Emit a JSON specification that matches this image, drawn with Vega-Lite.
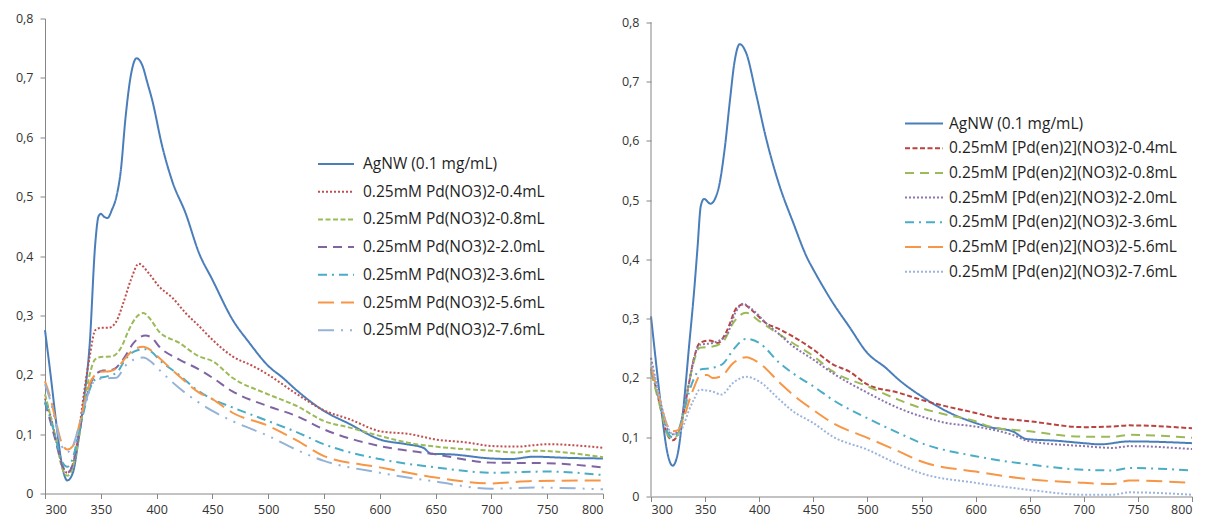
{
"$schema": "https://vega.github.io/schema/vega-lite/v6.json",
"padding": {"left": 15, "top": 12.5, "right": 0, "bottom": 0},
"background": "white",
"config": {
 "view": {"stroke": null},
 "axis": {"grid": false, "domainColor": "#868686", "tickColor": "#868686", "tickSize": 5, "labelFont": "Open Sans", "labelFontSize": 12.5, "labelColor": "#333333", "title": null},
 "legend": {"symbolType": "M-2,0H2", "symbolStrokeWidth": 2, "symbolFillColor": "transparent", "labelFont": "Open Sans", "labelFontSize": 15.5, "labelColor": "#1f1f1f", "title": null, "labelLimit": 500}
},
"spacing": 48,
"bounds": "flush",
"resolve": {"scale": {"color": "independent", "strokeDash": "independent"}, "legend": {"color": "independent", "strokeDash": "independent"}},
"datasets": {
"L": [
{"s":"AgNW (0.1 mg/mL)","x":300,"y":0.275},{"s":"AgNW (0.1 mg/mL)","x":305,"y":0.2},{"s":"AgNW (0.1 mg/mL)","x":310,"y":0.12},{"s":"AgNW (0.1 mg/mL)","x":315,"y":0.05},{"s":"AgNW (0.1 mg/mL)","x":320,"y":0.022},{"s":"AgNW (0.1 mg/mL)","x":325,"y":0.035},{"s":"AgNW (0.1 mg/mL)","x":330,"y":0.09},{"s":"AgNW (0.1 mg/mL)","x":335,"y":0.16},{"s":"AgNW (0.1 mg/mL)","x":340,"y":0.25},{"s":"AgNW (0.1 mg/mL)","x":345,"y":0.42},{"s":"AgNW (0.1 mg/mL)","x":348,"y":0.467},{"s":"AgNW (0.1 mg/mL)","x":350,"y":0.471},{"s":"AgNW (0.1 mg/mL)","x":353,"y":0.466},{"s":"AgNW (0.1 mg/mL)","x":356,"y":0.464},{"s":"AgNW (0.1 mg/mL)","x":360,"y":0.478},{"s":"AgNW (0.1 mg/mL)","x":364,"y":0.5},{"s":"AgNW (0.1 mg/mL)","x":368,"y":0.545},{"s":"AgNW (0.1 mg/mL)","x":372,"y":0.63},{"s":"AgNW (0.1 mg/mL)","x":377,"y":0.705},{"s":"AgNW (0.1 mg/mL)","x":382,"y":0.733},{"s":"AgNW (0.1 mg/mL)","x":387,"y":0.722},{"s":"AgNW (0.1 mg/mL)","x":392,"y":0.69},{"s":"AgNW (0.1 mg/mL)","x":396,"y":0.663},{"s":"AgNW (0.1 mg/mL)","x":405,"y":0.585},{"s":"AgNW (0.1 mg/mL)","x":414,"y":0.526},{"s":"AgNW (0.1 mg/mL)","x":426,"y":0.472},{"s":"AgNW (0.1 mg/mL)","x":438,"y":0.405},{"s":"AgNW (0.1 mg/mL)","x":450,"y":0.36},{"s":"AgNW (0.1 mg/mL)","x":468,"y":0.293},{"s":"AgNW (0.1 mg/mL)","x":483,"y":0.254},{"s":"AgNW (0.1 mg/mL)","x":500,"y":0.215},{"s":"AgNW (0.1 mg/mL)","x":513,"y":0.195},{"s":"AgNW (0.1 mg/mL)","x":526,"y":0.173},{"s":"AgNW (0.1 mg/mL)","x":550,"y":0.139},{"s":"AgNW (0.1 mg/mL)","x":573,"y":0.117},{"s":"AgNW (0.1 mg/mL)","x":600,"y":0.091},{"s":"AgNW (0.1 mg/mL)","x":624,"y":0.083},{"s":"AgNW (0.1 mg/mL)","x":639,"y":0.077},{"s":"AgNW (0.1 mg/mL)","x":646,"y":0.067},{"s":"AgNW (0.1 mg/mL)","x":663,"y":0.066},{"s":"AgNW (0.1 mg/mL)","x":700,"y":0.059},{"s":"AgNW (0.1 mg/mL)","x":717,"y":0.058},{"s":"AgNW (0.1 mg/mL)","x":738,"y":0.062},{"s":"AgNW (0.1 mg/mL)","x":768,"y":0.06},{"s":"AgNW (0.1 mg/mL)","x":800,"y":0.059},
{"s":"0.25mM Pd(NO3)2-0.4mL","x":300,"y":0.16},{"s":"0.25mM Pd(NO3)2-0.4mL","x":305,"y":0.13},{"s":"0.25mM Pd(NO3)2-0.4mL","x":310,"y":0.09},{"s":"0.25mM Pd(NO3)2-0.4mL","x":315,"y":0.05},{"s":"0.25mM Pd(NO3)2-0.4mL","x":320,"y":0.035},{"s":"0.25mM Pd(NO3)2-0.4mL","x":325,"y":0.05},{"s":"0.25mM Pd(NO3)2-0.4mL","x":330,"y":0.1},{"s":"0.25mM Pd(NO3)2-0.4mL","x":335,"y":0.17},{"s":"0.25mM Pd(NO3)2-0.4mL","x":340,"y":0.23},{"s":"0.25mM Pd(NO3)2-0.4mL","x":345,"y":0.275},{"s":"0.25mM Pd(NO3)2-0.4mL","x":350,"y":0.279},{"s":"0.25mM Pd(NO3)2-0.4mL","x":357,"y":0.279},{"s":"0.25mM Pd(NO3)2-0.4mL","x":364,"y":0.29},{"s":"0.25mM Pd(NO3)2-0.4mL","x":370,"y":0.32},{"s":"0.25mM Pd(NO3)2-0.4mL","x":377,"y":0.36},{"s":"0.25mM Pd(NO3)2-0.4mL","x":384,"y":0.387},{"s":"0.25mM Pd(NO3)2-0.4mL","x":393,"y":0.371},{"s":"0.25mM Pd(NO3)2-0.4mL","x":402,"y":0.349},{"s":"0.25mM Pd(NO3)2-0.4mL","x":414,"y":0.33},{"s":"0.25mM Pd(NO3)2-0.4mL","x":426,"y":0.304},{"s":"0.25mM Pd(NO3)2-0.4mL","x":438,"y":0.282},{"s":"0.25mM Pd(NO3)2-0.4mL","x":450,"y":0.259},{"s":"0.25mM Pd(NO3)2-0.4mL","x":468,"y":0.231},{"s":"0.25mM Pd(NO3)2-0.4mL","x":486,"y":0.215},{"s":"0.25mM Pd(NO3)2-0.4mL","x":500,"y":0.2},{"s":"0.25mM Pd(NO3)2-0.4mL","x":526,"y":0.167},{"s":"0.25mM Pd(NO3)2-0.4mL","x":550,"y":0.14},{"s":"0.25mM Pd(NO3)2-0.4mL","x":573,"y":0.125},{"s":"0.25mM Pd(NO3)2-0.4mL","x":600,"y":0.105},{"s":"0.25mM Pd(NO3)2-0.4mL","x":627,"y":0.1},{"s":"0.25mM Pd(NO3)2-0.4mL","x":650,"y":0.091},{"s":"0.25mM Pd(NO3)2-0.4mL","x":678,"y":0.086},{"s":"0.25mM Pd(NO3)2-0.4mL","x":700,"y":0.08},{"s":"0.25mM Pd(NO3)2-0.4mL","x":723,"y":0.079},{"s":"0.25mM Pd(NO3)2-0.4mL","x":750,"y":0.083},{"s":"0.25mM Pd(NO3)2-0.4mL","x":800,"y":0.077},
{"s":"0.25mM Pd(NO3)2-0.8mL","x":300,"y":0.167},{"s":"0.25mM Pd(NO3)2-0.8mL","x":305,"y":0.13},{"s":"0.25mM Pd(NO3)2-0.8mL","x":310,"y":0.09},{"s":"0.25mM Pd(NO3)2-0.8mL","x":315,"y":0.045},{"s":"0.25mM Pd(NO3)2-0.8mL","x":320,"y":0.03},{"s":"0.25mM Pd(NO3)2-0.8mL","x":325,"y":0.045},{"s":"0.25mM Pd(NO3)2-0.8mL","x":330,"y":0.09},{"s":"0.25mM Pd(NO3)2-0.8mL","x":335,"y":0.15},{"s":"0.25mM Pd(NO3)2-0.8mL","x":340,"y":0.2},{"s":"0.25mM Pd(NO3)2-0.8mL","x":345,"y":0.226},{"s":"0.25mM Pd(NO3)2-0.8mL","x":350,"y":0.23},{"s":"0.25mM Pd(NO3)2-0.8mL","x":360,"y":0.231},{"s":"0.25mM Pd(NO3)2-0.8mL","x":368,"y":0.245},{"s":"0.25mM Pd(NO3)2-0.8mL","x":375,"y":0.275},{"s":"0.25mM Pd(NO3)2-0.8mL","x":381,"y":0.295},{"s":"0.25mM Pd(NO3)2-0.8mL","x":388,"y":0.304},{"s":"0.25mM Pd(NO3)2-0.8mL","x":395,"y":0.292},{"s":"0.25mM Pd(NO3)2-0.8mL","x":402,"y":0.273},{"s":"0.25mM Pd(NO3)2-0.8mL","x":420,"y":0.254},{"s":"0.25mM Pd(NO3)2-0.8mL","x":438,"y":0.231},{"s":"0.25mM Pd(NO3)2-0.8mL","x":450,"y":0.223},{"s":"0.25mM Pd(NO3)2-0.8mL","x":468,"y":0.195},{"s":"0.25mM Pd(NO3)2-0.8mL","x":500,"y":0.167},{"s":"0.25mM Pd(NO3)2-0.8mL","x":526,"y":0.147},{"s":"0.25mM Pd(NO3)2-0.8mL","x":550,"y":0.122},{"s":"0.25mM Pd(NO3)2-0.8mL","x":573,"y":0.111},{"s":"0.25mM Pd(NO3)2-0.8mL","x":600,"y":0.097},{"s":"0.25mM Pd(NO3)2-0.8mL","x":627,"y":0.085},{"s":"0.25mM Pd(NO3)2-0.8mL","x":650,"y":0.079},{"s":"0.25mM Pd(NO3)2-0.8mL","x":700,"y":0.072},{"s":"0.25mM Pd(NO3)2-0.8mL","x":723,"y":0.069},{"s":"0.25mM Pd(NO3)2-0.8mL","x":738,"y":0.072},{"s":"0.25mM Pd(NO3)2-0.8mL","x":800,"y":0.061},
{"s":"0.25mM Pd(NO3)2-2.0mL","x":300,"y":0.153},{"s":"0.25mM Pd(NO3)2-2.0mL","x":305,"y":0.12},{"s":"0.25mM Pd(NO3)2-2.0mL","x":310,"y":0.085},{"s":"0.25mM Pd(NO3)2-2.0mL","x":315,"y":0.05},{"s":"0.25mM Pd(NO3)2-2.0mL","x":320,"y":0.035},{"s":"0.25mM Pd(NO3)2-2.0mL","x":325,"y":0.05},{"s":"0.25mM Pd(NO3)2-2.0mL","x":330,"y":0.095},{"s":"0.25mM Pd(NO3)2-2.0mL","x":335,"y":0.145},{"s":"0.25mM Pd(NO3)2-2.0mL","x":340,"y":0.18},{"s":"0.25mM Pd(NO3)2-2.0mL","x":345,"y":0.2},{"s":"0.25mM Pd(NO3)2-2.0mL","x":352,"y":0.207},{"s":"0.25mM Pd(NO3)2-2.0mL","x":361,"y":0.209},{"s":"0.25mM Pd(NO3)2-2.0mL","x":370,"y":0.226},{"s":"0.25mM Pd(NO3)2-2.0mL","x":380,"y":0.255},{"s":"0.25mM Pd(NO3)2-2.0mL","x":390,"y":0.266},{"s":"0.25mM Pd(NO3)2-2.0mL","x":396,"y":0.262},{"s":"0.25mM Pd(NO3)2-2.0mL","x":402,"y":0.248},{"s":"0.25mM Pd(NO3)2-2.0mL","x":420,"y":0.226},{"s":"0.25mM Pd(NO3)2-2.0mL","x":438,"y":0.209},{"s":"0.25mM Pd(NO3)2-2.0mL","x":450,"y":0.195},{"s":"0.25mM Pd(NO3)2-2.0mL","x":468,"y":0.172},{"s":"0.25mM Pd(NO3)2-2.0mL","x":500,"y":0.147},{"s":"0.25mM Pd(NO3)2-2.0mL","x":526,"y":0.13},{"s":"0.25mM Pd(NO3)2-2.0mL","x":550,"y":0.108},{"s":"0.25mM Pd(NO3)2-2.0mL","x":600,"y":0.08},{"s":"0.25mM Pd(NO3)2-2.0mL","x":650,"y":0.066},{"s":"0.25mM Pd(NO3)2-2.0mL","x":700,"y":0.052},{"s":"0.25mM Pd(NO3)2-2.0mL","x":750,"y":0.051},{"s":"0.25mM Pd(NO3)2-2.0mL","x":800,"y":0.044},
{"s":"0.25mM Pd(NO3)2-3.6mL","x":300,"y":0.155},{"s":"0.25mM Pd(NO3)2-3.6mL","x":305,"y":0.125},{"s":"0.25mM Pd(NO3)2-3.6mL","x":310,"y":0.09},{"s":"0.25mM Pd(NO3)2-3.6mL","x":315,"y":0.055},{"s":"0.25mM Pd(NO3)2-3.6mL","x":320,"y":0.045},{"s":"0.25mM Pd(NO3)2-3.6mL","x":325,"y":0.06},{"s":"0.25mM Pd(NO3)2-3.6mL","x":330,"y":0.1},{"s":"0.25mM Pd(NO3)2-3.6mL","x":335,"y":0.14},{"s":"0.25mM Pd(NO3)2-3.6mL","x":340,"y":0.175},{"s":"0.25mM Pd(NO3)2-3.6mL","x":345,"y":0.192},{"s":"0.25mM Pd(NO3)2-3.6mL","x":357,"y":0.198},{"s":"0.25mM Pd(NO3)2-3.6mL","x":365,"y":0.205},{"s":"0.25mM Pd(NO3)2-3.6mL","x":372,"y":0.226},{"s":"0.25mM Pd(NO3)2-3.6mL","x":381,"y":0.24},{"s":"0.25mM Pd(NO3)2-3.6mL","x":390,"y":0.243},{"s":"0.25mM Pd(NO3)2-3.6mL","x":396,"y":0.238},{"s":"0.25mM Pd(NO3)2-3.6mL","x":402,"y":0.226},{"s":"0.25mM Pd(NO3)2-3.6mL","x":420,"y":0.2},{"s":"0.25mM Pd(NO3)2-3.6mL","x":438,"y":0.172},{"s":"0.25mM Pd(NO3)2-3.6mL","x":450,"y":0.159},{"s":"0.25mM Pd(NO3)2-3.6mL","x":468,"y":0.145},{"s":"0.25mM Pd(NO3)2-3.6mL","x":500,"y":0.122},{"s":"0.25mM Pd(NO3)2-3.6mL","x":526,"y":0.103},{"s":"0.25mM Pd(NO3)2-3.6mL","x":550,"y":0.083},{"s":"0.25mM Pd(NO3)2-3.6mL","x":600,"y":0.058},{"s":"0.25mM Pd(NO3)2-3.6mL","x":650,"y":0.044},{"s":"0.25mM Pd(NO3)2-3.6mL","x":700,"y":0.035},{"s":"0.25mM Pd(NO3)2-3.6mL","x":750,"y":0.037},{"s":"0.25mM Pd(NO3)2-3.6mL","x":800,"y":0.031},
{"s":"0.25mM Pd(NO3)2-5.6mL","x":300,"y":0.189},{"s":"0.25mM Pd(NO3)2-5.6mL","x":305,"y":0.16},{"s":"0.25mM Pd(NO3)2-5.6mL","x":310,"y":0.12},{"s":"0.25mM Pd(NO3)2-5.6mL","x":315,"y":0.085},{"s":"0.25mM Pd(NO3)2-5.6mL","x":320,"y":0.074},{"s":"0.25mM Pd(NO3)2-5.6mL","x":325,"y":0.08},{"s":"0.25mM Pd(NO3)2-5.6mL","x":330,"y":0.11},{"s":"0.25mM Pd(NO3)2-5.6mL","x":335,"y":0.15},{"s":"0.25mM Pd(NO3)2-5.6mL","x":340,"y":0.185},{"s":"0.25mM Pd(NO3)2-5.6mL","x":345,"y":0.2},{"s":"0.25mM Pd(NO3)2-5.6mL","x":350,"y":0.205},{"s":"0.25mM Pd(NO3)2-5.6mL","x":358,"y":0.206},{"s":"0.25mM Pd(NO3)2-5.6mL","x":365,"y":0.212},{"s":"0.25mM Pd(NO3)2-5.6mL","x":372,"y":0.228},{"s":"0.25mM Pd(NO3)2-5.6mL","x":380,"y":0.243},{"s":"0.25mM Pd(NO3)2-5.6mL","x":388,"y":0.247},{"s":"0.25mM Pd(NO3)2-5.6mL","x":395,"y":0.241},{"s":"0.25mM Pd(NO3)2-5.6mL","x":402,"y":0.229},{"s":"0.25mM Pd(NO3)2-5.6mL","x":420,"y":0.198},{"s":"0.25mM Pd(NO3)2-5.6mL","x":438,"y":0.17},{"s":"0.25mM Pd(NO3)2-5.6mL","x":450,"y":0.159},{"s":"0.25mM Pd(NO3)2-5.6mL","x":468,"y":0.136},{"s":"0.25mM Pd(NO3)2-5.6mL","x":500,"y":0.114},{"s":"0.25mM Pd(NO3)2-5.6mL","x":526,"y":0.089},{"s":"0.25mM Pd(NO3)2-5.6mL","x":550,"y":0.063},{"s":"0.25mM Pd(NO3)2-5.6mL","x":600,"y":0.044},{"s":"0.25mM Pd(NO3)2-5.6mL","x":650,"y":0.027},{"s":"0.25mM Pd(NO3)2-5.6mL","x":700,"y":0.017},{"s":"0.25mM Pd(NO3)2-5.6mL","x":738,"y":0.021},{"s":"0.25mM Pd(NO3)2-5.6mL","x":800,"y":0.022},
{"s":"0.25mM Pd(NO3)2-7.6mL","x":300,"y":0.184},{"s":"0.25mM Pd(NO3)2-7.6mL","x":305,"y":0.155},{"s":"0.25mM Pd(NO3)2-7.6mL","x":310,"y":0.115},{"s":"0.25mM Pd(NO3)2-7.6mL","x":315,"y":0.08},{"s":"0.25mM Pd(NO3)2-7.6mL","x":320,"y":0.07},{"s":"0.25mM Pd(NO3)2-7.6mL","x":325,"y":0.08},{"s":"0.25mM Pd(NO3)2-7.6mL","x":330,"y":0.11},{"s":"0.25mM Pd(NO3)2-7.6mL","x":335,"y":0.145},{"s":"0.25mM Pd(NO3)2-7.6mL","x":340,"y":0.175},{"s":"0.25mM Pd(NO3)2-7.6mL","x":346,"y":0.192},{"s":"0.25mM Pd(NO3)2-7.6mL","x":355,"y":0.194},{"s":"0.25mM Pd(NO3)2-7.6mL","x":364,"y":0.195},{"s":"0.25mM Pd(NO3)2-7.6mL","x":372,"y":0.215},{"s":"0.25mM Pd(NO3)2-7.6mL","x":380,"y":0.226},{"s":"0.25mM Pd(NO3)2-7.6mL","x":388,"y":0.229},{"s":"0.25mM Pd(NO3)2-7.6mL","x":395,"y":0.222},{"s":"0.25mM Pd(NO3)2-7.6mL","x":402,"y":0.209},{"s":"0.25mM Pd(NO3)2-7.6mL","x":420,"y":0.178},{"s":"0.25mM Pd(NO3)2-7.6mL","x":438,"y":0.153},{"s":"0.25mM Pd(NO3)2-7.6mL","x":450,"y":0.139},{"s":"0.25mM Pd(NO3)2-7.6mL","x":468,"y":0.122},{"s":"0.25mM Pd(NO3)2-7.6mL","x":500,"y":0.097},{"s":"0.25mM Pd(NO3)2-7.6mL","x":526,"y":0.073},{"s":"0.25mM Pd(NO3)2-7.6mL","x":550,"y":0.055},{"s":"0.25mM Pd(NO3)2-7.6mL","x":600,"y":0.035},{"s":"0.25mM Pd(NO3)2-7.6mL","x":650,"y":0.02},{"s":"0.25mM Pd(NO3)2-7.6mL","x":700,"y":0.008},{"s":"0.25mM Pd(NO3)2-7.6mL","x":738,"y":0.01},{"s":"0.25mM Pd(NO3)2-7.6mL","x":800,"y":0.007}
],
"R": [
{"s":"AgNW (0.1 mg/mL)","x":300,"y":0.304},{"s":"AgNW (0.1 mg/mL)","x":305,"y":0.22},{"s":"AgNW (0.1 mg/mL)","x":310,"y":0.14},{"s":"AgNW (0.1 mg/mL)","x":315,"y":0.075},{"s":"AgNW (0.1 mg/mL)","x":320,"y":0.052},{"s":"AgNW (0.1 mg/mL)","x":325,"y":0.075},{"s":"AgNW (0.1 mg/mL)","x":330,"y":0.15},{"s":"AgNW (0.1 mg/mL)","x":335,"y":0.25},{"s":"AgNW (0.1 mg/mL)","x":340,"y":0.35},{"s":"AgNW (0.1 mg/mL)","x":343,"y":0.42},{"s":"AgNW (0.1 mg/mL)","x":346,"y":0.49},{"s":"AgNW (0.1 mg/mL)","x":349,"y":0.502},{"s":"AgNW (0.1 mg/mL)","x":355,"y":0.494},{"s":"AgNW (0.1 mg/mL)","x":362,"y":0.517},{"s":"AgNW (0.1 mg/mL)","x":368,"y":0.585},{"s":"AgNW (0.1 mg/mL)","x":373,"y":0.669},{"s":"AgNW (0.1 mg/mL)","x":377,"y":0.731},{"s":"AgNW (0.1 mg/mL)","x":382,"y":0.763},{"s":"AgNW (0.1 mg/mL)","x":388,"y":0.748},{"s":"AgNW (0.1 mg/mL)","x":397,"y":0.68},{"s":"AgNW (0.1 mg/mL)","x":406,"y":0.607},{"s":"AgNW (0.1 mg/mL)","x":419,"y":0.523},{"s":"AgNW (0.1 mg/mL)","x":431,"y":0.464},{"s":"AgNW (0.1 mg/mL)","x":445,"y":0.4},{"s":"AgNW (0.1 mg/mL)","x":450,"y":0.383},{"s":"AgNW (0.1 mg/mL)","x":468,"y":0.327},{"s":"AgNW (0.1 mg/mL)","x":483,"y":0.287},{"s":"AgNW (0.1 mg/mL)","x":500,"y":0.242},{"s":"AgNW (0.1 mg/mL)","x":517,"y":0.217},{"s":"AgNW (0.1 mg/mL)","x":529,"y":0.197},{"s":"AgNW (0.1 mg/mL)","x":550,"y":0.169},{"s":"AgNW (0.1 mg/mL)","x":573,"y":0.144},{"s":"AgNW (0.1 mg/mL)","x":600,"y":0.124},{"s":"AgNW (0.1 mg/mL)","x":613,"y":0.117},{"s":"AgNW (0.1 mg/mL)","x":634,"y":0.11},{"s":"AgNW (0.1 mg/mL)","x":647,"y":0.097},{"s":"AgNW (0.1 mg/mL)","x":675,"y":0.094},{"s":"AgNW (0.1 mg/mL)","x":700,"y":0.09},{"s":"AgNW (0.1 mg/mL)","x":715,"y":0.088},{"s":"AgNW (0.1 mg/mL)","x":742,"y":0.093},{"s":"AgNW (0.1 mg/mL)","x":800,"y":0.09},
{"s":"0.25mM [Pd(en)2](NO3)2-0.4mL","x":300,"y":0.215},{"s":"0.25mM [Pd(en)2](NO3)2-0.4mL","x":305,"y":0.18},{"s":"0.25mM [Pd(en)2](NO3)2-0.4mL","x":310,"y":0.14},{"s":"0.25mM [Pd(en)2](NO3)2-0.4mL","x":315,"y":0.105},{"s":"0.25mM [Pd(en)2](NO3)2-0.4mL","x":320,"y":0.095},{"s":"0.25mM [Pd(en)2](NO3)2-0.4mL","x":325,"y":0.105},{"s":"0.25mM [Pd(en)2](NO3)2-0.4mL","x":330,"y":0.14},{"s":"0.25mM [Pd(en)2](NO3)2-0.4mL","x":335,"y":0.19},{"s":"0.25mM [Pd(en)2](NO3)2-0.4mL","x":340,"y":0.235},{"s":"0.25mM [Pd(en)2](NO3)2-0.4mL","x":345,"y":0.259},{"s":"0.25mM [Pd(en)2](NO3)2-0.4mL","x":354,"y":0.263},{"s":"0.25mM [Pd(en)2](NO3)2-0.4mL","x":362,"y":0.259},{"s":"0.25mM [Pd(en)2](NO3)2-0.4mL","x":370,"y":0.279},{"s":"0.25mM [Pd(en)2](NO3)2-0.4mL","x":379,"y":0.318},{"s":"0.25mM [Pd(en)2](NO3)2-0.4mL","x":385,"y":0.324},{"s":"0.25mM [Pd(en)2](NO3)2-0.4mL","x":394,"y":0.313},{"s":"0.25mM [Pd(en)2](NO3)2-0.4mL","x":406,"y":0.293},{"s":"0.25mM [Pd(en)2](NO3)2-0.4mL","x":419,"y":0.282},{"s":"0.25mM [Pd(en)2](NO3)2-0.4mL","x":431,"y":0.27},{"s":"0.25mM [Pd(en)2](NO3)2-0.4mL","x":450,"y":0.248},{"s":"0.25mM [Pd(en)2](NO3)2-0.4mL","x":468,"y":0.223},{"s":"0.25mM [Pd(en)2](NO3)2-0.4mL","x":483,"y":0.211},{"s":"0.25mM [Pd(en)2](NO3)2-0.4mL","x":500,"y":0.189},{"s":"0.25mM [Pd(en)2](NO3)2-0.4mL","x":529,"y":0.175},{"s":"0.25mM [Pd(en)2](NO3)2-0.4mL","x":550,"y":0.163},{"s":"0.25mM [Pd(en)2](NO3)2-0.4mL","x":573,"y":0.152},{"s":"0.25mM [Pd(en)2](NO3)2-0.4mL","x":600,"y":0.141},{"s":"0.25mM [Pd(en)2](NO3)2-0.4mL","x":613,"y":0.135},{"s":"0.25mM [Pd(en)2](NO3)2-0.4mL","x":650,"y":0.127},{"s":"0.25mM [Pd(en)2](NO3)2-0.4mL","x":700,"y":0.117},{"s":"0.25mM [Pd(en)2](NO3)2-0.4mL","x":727,"y":0.118},{"s":"0.25mM [Pd(en)2](NO3)2-0.4mL","x":742,"y":0.12},{"s":"0.25mM [Pd(en)2](NO3)2-0.4mL","x":800,"y":0.115},
{"s":"0.25mM [Pd(en)2](NO3)2-0.8mL","x":300,"y":0.21},{"s":"0.25mM [Pd(en)2](NO3)2-0.8mL","x":305,"y":0.175},{"s":"0.25mM [Pd(en)2](NO3)2-0.8mL","x":310,"y":0.14},{"s":"0.25mM [Pd(en)2](NO3)2-0.8mL","x":315,"y":0.105},{"s":"0.25mM [Pd(en)2](NO3)2-0.8mL","x":320,"y":0.098},{"s":"0.25mM [Pd(en)2](NO3)2-0.8mL","x":325,"y":0.105},{"s":"0.25mM [Pd(en)2](NO3)2-0.8mL","x":330,"y":0.14},{"s":"0.25mM [Pd(en)2](NO3)2-0.8mL","x":335,"y":0.19},{"s":"0.25mM [Pd(en)2](NO3)2-0.8mL","x":340,"y":0.23},{"s":"0.25mM [Pd(en)2](NO3)2-0.8mL","x":345,"y":0.251},{"s":"0.25mM [Pd(en)2](NO3)2-0.8mL","x":357,"y":0.253},{"s":"0.25mM [Pd(en)2](NO3)2-0.8mL","x":367,"y":0.262},{"s":"0.25mM [Pd(en)2](NO3)2-0.8mL","x":376,"y":0.293},{"s":"0.25mM [Pd(en)2](NO3)2-0.8mL","x":388,"y":0.31},{"s":"0.25mM [Pd(en)2](NO3)2-0.8mL","x":400,"y":0.296},{"s":"0.25mM [Pd(en)2](NO3)2-0.8mL","x":419,"y":0.273},{"s":"0.25mM [Pd(en)2](NO3)2-0.8mL","x":431,"y":0.259},{"s":"0.25mM [Pd(en)2](NO3)2-0.8mL","x":450,"y":0.237},{"s":"0.25mM [Pd(en)2](NO3)2-0.8mL","x":468,"y":0.211},{"s":"0.25mM [Pd(en)2](NO3)2-0.8mL","x":500,"y":0.186},{"s":"0.25mM [Pd(en)2](NO3)2-0.8mL","x":529,"y":0.163},{"s":"0.25mM [Pd(en)2](NO3)2-0.8mL","x":550,"y":0.149},{"s":"0.25mM [Pd(en)2](NO3)2-0.8mL","x":573,"y":0.138},{"s":"0.25mM [Pd(en)2](NO3)2-0.8mL","x":600,"y":0.127},{"s":"0.25mM [Pd(en)2](NO3)2-0.8mL","x":613,"y":0.118},{"s":"0.25mM [Pd(en)2](NO3)2-0.8mL","x":650,"y":0.11},{"s":"0.25mM [Pd(en)2](NO3)2-0.8mL","x":700,"y":0.101},{"s":"0.25mM [Pd(en)2](NO3)2-0.8mL","x":727,"y":0.101},{"s":"0.25mM [Pd(en)2](NO3)2-0.8mL","x":742,"y":0.104},{"s":"0.25mM [Pd(en)2](NO3)2-0.8mL","x":800,"y":0.099},
{"s":"0.25mM [Pd(en)2](NO3)2-2.0mL","x":300,"y":0.234},{"s":"0.25mM [Pd(en)2](NO3)2-2.0mL","x":305,"y":0.19},{"s":"0.25mM [Pd(en)2](NO3)2-2.0mL","x":310,"y":0.15},{"s":"0.25mM [Pd(en)2](NO3)2-2.0mL","x":315,"y":0.115},{"s":"0.25mM [Pd(en)2](NO3)2-2.0mL","x":320,"y":0.105},{"s":"0.25mM [Pd(en)2](NO3)2-2.0mL","x":325,"y":0.11},{"s":"0.25mM [Pd(en)2](NO3)2-2.0mL","x":330,"y":0.145},{"s":"0.25mM [Pd(en)2](NO3)2-2.0mL","x":335,"y":0.19},{"s":"0.25mM [Pd(en)2](NO3)2-2.0mL","x":340,"y":0.235},{"s":"0.25mM [Pd(en)2](NO3)2-2.0mL","x":345,"y":0.256},{"s":"0.25mM [Pd(en)2](NO3)2-2.0mL","x":357,"y":0.259},{"s":"0.25mM [Pd(en)2](NO3)2-2.0mL","x":370,"y":0.273},{"s":"0.25mM [Pd(en)2](NO3)2-2.0mL","x":378,"y":0.31},{"s":"0.25mM [Pd(en)2](NO3)2-2.0mL","x":385,"y":0.325},{"s":"0.25mM [Pd(en)2](NO3)2-2.0mL","x":394,"y":0.315},{"s":"0.25mM [Pd(en)2](NO3)2-2.0mL","x":406,"y":0.293},{"s":"0.25mM [Pd(en)2](NO3)2-2.0mL","x":419,"y":0.273},{"s":"0.25mM [Pd(en)2](NO3)2-2.0mL","x":431,"y":0.254},{"s":"0.25mM [Pd(en)2](NO3)2-2.0mL","x":450,"y":0.231},{"s":"0.25mM [Pd(en)2](NO3)2-2.0mL","x":468,"y":0.208},{"s":"0.25mM [Pd(en)2](NO3)2-2.0mL","x":500,"y":0.175},{"s":"0.25mM [Pd(en)2](NO3)2-2.0mL","x":529,"y":0.149},{"s":"0.25mM [Pd(en)2](NO3)2-2.0mL","x":550,"y":0.135},{"s":"0.25mM [Pd(en)2](NO3)2-2.0mL","x":573,"y":0.124},{"s":"0.25mM [Pd(en)2](NO3)2-2.0mL","x":600,"y":0.118},{"s":"0.25mM [Pd(en)2](NO3)2-2.0mL","x":634,"y":0.104},{"s":"0.25mM [Pd(en)2](NO3)2-2.0mL","x":650,"y":0.093},{"s":"0.25mM [Pd(en)2](NO3)2-2.0mL","x":700,"y":0.085},{"s":"0.25mM [Pd(en)2](NO3)2-2.0mL","x":727,"y":0.082},{"s":"0.25mM [Pd(en)2](NO3)2-2.0mL","x":742,"y":0.085},{"s":"0.25mM [Pd(en)2](NO3)2-2.0mL","x":800,"y":0.08},
{"s":"0.25mM [Pd(en)2](NO3)2-3.6mL","x":300,"y":0.215},{"s":"0.25mM [Pd(en)2](NO3)2-3.6mL","x":305,"y":0.18},{"s":"0.25mM [Pd(en)2](NO3)2-3.6mL","x":310,"y":0.145},{"s":"0.25mM [Pd(en)2](NO3)2-3.6mL","x":315,"y":0.11},{"s":"0.25mM [Pd(en)2](NO3)2-3.6mL","x":320,"y":0.1},{"s":"0.25mM [Pd(en)2](NO3)2-3.6mL","x":325,"y":0.11},{"s":"0.25mM [Pd(en)2](NO3)2-3.6mL","x":330,"y":0.14},{"s":"0.25mM [Pd(en)2](NO3)2-3.6mL","x":335,"y":0.175},{"s":"0.25mM [Pd(en)2](NO3)2-3.6mL","x":340,"y":0.2},{"s":"0.25mM [Pd(en)2](NO3)2-3.6mL","x":345,"y":0.214},{"s":"0.25mM [Pd(en)2](NO3)2-3.6mL","x":357,"y":0.217},{"s":"0.25mM [Pd(en)2](NO3)2-3.6mL","x":367,"y":0.225},{"s":"0.25mM [Pd(en)2](NO3)2-3.6mL","x":377,"y":0.25},{"s":"0.25mM [Pd(en)2](NO3)2-3.6mL","x":388,"y":0.266},{"s":"0.25mM [Pd(en)2](NO3)2-3.6mL","x":400,"y":0.259},{"s":"0.25mM [Pd(en)2](NO3)2-3.6mL","x":419,"y":0.225},{"s":"0.25mM [Pd(en)2](NO3)2-3.6mL","x":431,"y":0.208},{"s":"0.25mM [Pd(en)2](NO3)2-3.6mL","x":450,"y":0.186},{"s":"0.25mM [Pd(en)2](NO3)2-3.6mL","x":468,"y":0.163},{"s":"0.25mM [Pd(en)2](NO3)2-3.6mL","x":500,"y":0.132},{"s":"0.25mM [Pd(en)2](NO3)2-3.6mL","x":529,"y":0.107},{"s":"0.25mM [Pd(en)2](NO3)2-3.6mL","x":550,"y":0.09},{"s":"0.25mM [Pd(en)2](NO3)2-3.6mL","x":600,"y":0.068},{"s":"0.25mM [Pd(en)2](NO3)2-3.6mL","x":650,"y":0.054},{"s":"0.25mM [Pd(en)2](NO3)2-3.6mL","x":700,"y":0.045},{"s":"0.25mM [Pd(en)2](NO3)2-3.6mL","x":727,"y":0.044},{"s":"0.25mM [Pd(en)2](NO3)2-3.6mL","x":742,"y":0.048},{"s":"0.25mM [Pd(en)2](NO3)2-3.6mL","x":800,"y":0.044},
{"s":"0.25mM [Pd(en)2](NO3)2-5.6mL","x":300,"y":0.218},{"s":"0.25mM [Pd(en)2](NO3)2-5.6mL","x":305,"y":0.185},{"s":"0.25mM [Pd(en)2](NO3)2-5.6mL","x":310,"y":0.15},{"s":"0.25mM [Pd(en)2](NO3)2-5.6mL","x":315,"y":0.12},{"s":"0.25mM [Pd(en)2](NO3)2-5.6mL","x":320,"y":0.11},{"s":"0.25mM [Pd(en)2](NO3)2-5.6mL","x":325,"y":0.112},{"s":"0.25mM [Pd(en)2](NO3)2-5.6mL","x":330,"y":0.13},{"s":"0.25mM [Pd(en)2](NO3)2-5.6mL","x":335,"y":0.16},{"s":"0.25mM [Pd(en)2](NO3)2-5.6mL","x":340,"y":0.185},{"s":"0.25mM [Pd(en)2](NO3)2-5.6mL","x":345,"y":0.203},{"s":"0.25mM [Pd(en)2](NO3)2-5.6mL","x":352,"y":0.205},{"s":"0.25mM [Pd(en)2](NO3)2-5.6mL","x":357,"y":0.2},{"s":"0.25mM [Pd(en)2](NO3)2-5.6mL","x":365,"y":0.203},{"s":"0.25mM [Pd(en)2](NO3)2-5.6mL","x":376,"y":0.225},{"s":"0.25mM [Pd(en)2](NO3)2-5.6mL","x":388,"y":0.235},{"s":"0.25mM [Pd(en)2](NO3)2-5.6mL","x":400,"y":0.225},{"s":"0.25mM [Pd(en)2](NO3)2-5.6mL","x":419,"y":0.192},{"s":"0.25mM [Pd(en)2](NO3)2-5.6mL","x":431,"y":0.172},{"s":"0.25mM [Pd(en)2](NO3)2-5.6mL","x":450,"y":0.146},{"s":"0.25mM [Pd(en)2](NO3)2-5.6mL","x":468,"y":0.124},{"s":"0.25mM [Pd(en)2](NO3)2-5.6mL","x":500,"y":0.099},{"s":"0.25mM [Pd(en)2](NO3)2-5.6mL","x":529,"y":0.076},{"s":"0.25mM [Pd(en)2](NO3)2-5.6mL","x":550,"y":0.059},{"s":"0.25mM [Pd(en)2](NO3)2-5.6mL","x":600,"y":0.042},{"s":"0.25mM [Pd(en)2](NO3)2-5.6mL","x":650,"y":0.029},{"s":"0.25mM [Pd(en)2](NO3)2-5.6mL","x":700,"y":0.023},{"s":"0.25mM [Pd(en)2](NO3)2-5.6mL","x":727,"y":0.021},{"s":"0.25mM [Pd(en)2](NO3)2-5.6mL","x":742,"y":0.027},{"s":"0.25mM [Pd(en)2](NO3)2-5.6mL","x":800,"y":0.023},
{"s":"0.25mM [Pd(en)2](NO3)2-7.6mL","x":300,"y":0.225},{"s":"0.25mM [Pd(en)2](NO3)2-7.6mL","x":305,"y":0.19},{"s":"0.25mM [Pd(en)2](NO3)2-7.6mL","x":310,"y":0.15},{"s":"0.25mM [Pd(en)2](NO3)2-7.6mL","x":315,"y":0.12},{"s":"0.25mM [Pd(en)2](NO3)2-7.6mL","x":320,"y":0.105},{"s":"0.25mM [Pd(en)2](NO3)2-7.6mL","x":325,"y":0.105},{"s":"0.25mM [Pd(en)2](NO3)2-7.6mL","x":330,"y":0.12},{"s":"0.25mM [Pd(en)2](NO3)2-7.6mL","x":335,"y":0.145},{"s":"0.25mM [Pd(en)2](NO3)2-7.6mL","x":340,"y":0.165},{"s":"0.25mM [Pd(en)2](NO3)2-7.6mL","x":345,"y":0.18},{"s":"0.25mM [Pd(en)2](NO3)2-7.6mL","x":357,"y":0.177},{"s":"0.25mM [Pd(en)2](NO3)2-7.6mL","x":365,"y":0.172},{"s":"0.25mM [Pd(en)2](NO3)2-7.6mL","x":376,"y":0.192},{"s":"0.25mM [Pd(en)2](NO3)2-7.6mL","x":388,"y":0.202},{"s":"0.25mM [Pd(en)2](NO3)2-7.6mL","x":400,"y":0.194},{"s":"0.25mM [Pd(en)2](NO3)2-7.6mL","x":419,"y":0.163},{"s":"0.25mM [Pd(en)2](NO3)2-7.6mL","x":431,"y":0.144},{"s":"0.25mM [Pd(en)2](NO3)2-7.6mL","x":450,"y":0.124},{"s":"0.25mM [Pd(en)2](NO3)2-7.6mL","x":468,"y":0.101},{"s":"0.25mM [Pd(en)2](NO3)2-7.6mL","x":500,"y":0.079},{"s":"0.25mM [Pd(en)2](NO3)2-7.6mL","x":529,"y":0.054},{"s":"0.25mM [Pd(en)2](NO3)2-7.6mL","x":550,"y":0.039},{"s":"0.25mM [Pd(en)2](NO3)2-7.6mL","x":600,"y":0.023},{"s":"0.25mM [Pd(en)2](NO3)2-7.6mL","x":650,"y":0.011},{"s":"0.25mM [Pd(en)2](NO3)2-7.6mL","x":700,"y":0.003},{"s":"0.25mM [Pd(en)2](NO3)2-7.6mL","x":727,"y":0.003},{"s":"0.25mM [Pd(en)2](NO3)2-7.6mL","x":742,"y":0.007},{"s":"0.25mM [Pd(en)2](NO3)2-7.6mL","x":800,"y":0.003}
]
},
"hconcat": [
{
 "width": 558, "height": 475,
 "data": {"name": "L"},
 "mark": {"type": "line", "interpolate": "monotone", "strokeWidth": 2},
 "encoding": {
  "x": {"field": "x", "type": "quantitative", "scale": {"domain": [300, 800], "nice": false, "zero": false}, "axis": {"values": [300,350,400,450,500,550,600,650,700,750,800], "labelPadding": 5}},
  "y": {"field": "y", "type": "quantitative", "scale": {"domain": [0, 0.8], "nice": false}, "axis": {"values": [0,0.1,0.2,0.3,0.4,0.5,0.6,0.7,0.8], "labelPadding": 7, "labelExpr": "datum.value == 0 ? '0' : replace(format(datum.value, '.1f'), '.', ',')"}},
  "color": {"field": "s", "type": "nominal",
   "scale": {"domain": ["AgNW (0.1 mg/mL)","0.25mM Pd(NO3)2-0.4mL","0.25mM Pd(NO3)2-0.8mL","0.25mM Pd(NO3)2-2.0mL","0.25mM Pd(NO3)2-3.6mL","0.25mM Pd(NO3)2-5.6mL","0.25mM Pd(NO3)2-7.6mL"],
             "range": ["#4A7EBB","#C0504D","#9BBB59","#8064A2","#4BACC6","#F79646","#95B3D7"]},
   "legend": {"orient": "none", "legendX": 281, "legendY": 135.5, "symbolSize": 324, "rowPadding": 8.7, "labelOffset": 17}},
  "strokeDash": {"field": "s", "type": "nominal",
   "scale": {"domain": ["AgNW (0.1 mg/mL)","0.25mM Pd(NO3)2-0.4mL","0.25mM Pd(NO3)2-0.8mL","0.25mM Pd(NO3)2-2.0mL","0.25mM Pd(NO3)2-3.6mL","0.25mM Pd(NO3)2-5.6mL","0.25mM Pd(NO3)2-7.6mL"],
             "range": [[1,0],[2,2],[5,2.5],[9,6],[9,5,2,5],[16,7],[16,7,2,7,2,7]]},
   "legend": {"orient": "none", "legendX": 281, "legendY": 135.5, "symbolSize": 324, "rowPadding": 8.7, "labelOffset": 17}}
 }
},
{
 "width": 541, "height": 478,
 "layer": [
 {
 "data": {"name": "R"},
 "mark": {"type": "line", "interpolate": "monotone", "strokeWidth": 2},
 "encoding": {
  "x": {"field": "x", "type": "quantitative", "scale": {"domain": [300, 800], "nice": false, "zero": false}, "axis": {"values": [300,350,400,450,500,550,600,650,700,750,800], "labelPadding": 2}},
  "y": {"field": "y", "type": "quantitative", "scale": {"domain": [0, 0.8064], "nice": false}, "axis": {"values": [0,0.1,0.2,0.3,0.4,0.5,0.6,0.7,0.8], "domain": false, "labelPadding": 7, "labelExpr": "datum.value == 0 ? '0' : replace(format(datum.value, '.1f'), '.', ',')"}},
  "color": {"field": "s", "type": "nominal",
   "scale": {"domain": ["AgNW (0.1 mg/mL)","0.25mM [Pd(en)2](NO3)2-0.4mL","0.25mM [Pd(en)2](NO3)2-0.8mL","0.25mM [Pd(en)2](NO3)2-2.0mL","0.25mM [Pd(en)2](NO3)2-3.6mL","0.25mM [Pd(en)2](NO3)2-5.6mL","0.25mM [Pd(en)2](NO3)2-7.6mL"],
             "range": ["#4A7EBB","#B8433F","#9BBB59","#8C75AE","#4BACC6","#F79646","#9DB5DD"]},
   "legend": {"orient": "none", "legendX": 262.5, "legendY": 94.5, "symbolSize": 361, "rowPadding": 5.7, "labelOffset": 14.5}},
  "strokeDash": {"field": "s", "type": "nominal",
   "scale": {"domain": ["AgNW (0.1 mg/mL)","0.25mM [Pd(en)2](NO3)2-0.4mL","0.25mM [Pd(en)2](NO3)2-0.8mL","0.25mM [Pd(en)2](NO3)2-2.0mL","0.25mM [Pd(en)2](NO3)2-3.6mL","0.25mM [Pd(en)2](NO3)2-5.6mL","0.25mM [Pd(en)2](NO3)2-7.6mL"],
             "range": [[1,0],[5,2.5],[9,6],[2,2],[9,5,2,5],[16,7],[2,2]]},
   "legend": {"orient": "none", "legendX": 262.5, "legendY": 94.5, "symbolSize": 361, "rowPadding": 5.7, "labelOffset": 14.5}}
 }
 },
 {
 "data": {"values": [{}]},
 "mark": {"type": "rule", "color": "#868686", "strokeWidth": 1},
 "encoding": {
  "x": {"datum": 300, "type": "quantitative"},
  "y": {"datum": 0, "type": "quantitative"},
  "y2": {"datum": 0.8}
 }
 }
 ]
}
]
}
